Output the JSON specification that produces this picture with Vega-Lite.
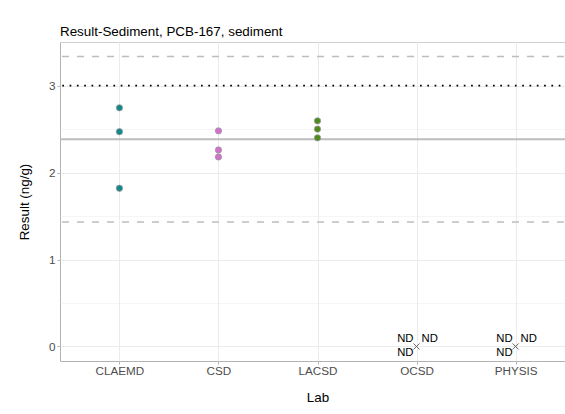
{
  "$schema": "https://vega.github.io/schema/vega-lite/v6.json",
  "width": 515,
  "height": 319,
  "autosize": {"type": "none"},
  "padding": {"left": 60, "top": 42, "right": 0, "bottom": 53},
  "background": "white",
  "title": {
    "text": "Result-Sediment, PCB-167, sediment",
    "anchor": "start",
    "frame": "group",
    "font": "Liberation Sans",
    "fontSize": 13.4,
    "fontWeight": "normal",
    "color": "#000000",
    "offset": 4
  },
  "config": {
    "view": {"stroke": "#b3b3b3", "strokeWidth": 1},
    "axis": {
      "labelFont": "Liberation Sans",
      "titleFont": "Liberation Sans",
      "labelFontSize": 11.7,
      "titleFontSize": 13.4,
      "titleFontWeight": "normal",
      "labelColor": "#4d4d4d",
      "titleColor": "#000000",
      "tickColor": "#b3b3b3",
      "domain": false,
      "gridColor": "#ebebeb"
    }
  },
  "datasets": {
    "results": [
      {"Lab": "CLAEMD", "Result": 2.745},
      {"Lab": "CLAEMD", "Result": 2.47},
      {"Lab": "CLAEMD", "Result": 1.82},
      {"Lab": "CSD", "Result": 2.48},
      {"Lab": "CSD", "Result": 2.26},
      {"Lab": "CSD", "Result": 2.18},
      {"Lab": "LACSD", "Result": 2.595},
      {"Lab": "LACSD", "Result": 2.50},
      {"Lab": "LACSD", "Result": 2.40}
    ],
    "nd": [
      {"Lab": "OCSD", "Result": 0, "Label": "ND"},
      {"Lab": "PHYSIS", "Result": 0, "Label": "ND"}
    ],
    "refs": [
      {"line": "upper", "Result": 3.335},
      {"line": "lower", "Result": 1.431},
      {"line": "target", "Result": 3.0},
      {"line": "mean", "Result": 2.383}
    ]
  },
  "encoding": {
    "y": {
      "field": "Result",
      "type": "quantitative",
      "scale": {"domain": [-0.167, 3.502], "nice": false, "zero": false},
      "axis": {
        "title": "Result (ng/g)",
        "values": [0, 0.5, 1, 1.5, 2, 2.5, 3, 3.5],
        "format": ".0f",
        "labelExpr": "datum.value % 1 === 0 ? datum.label : ''",
        "tickOpacity": {"condition": {"test": "datum.value % 1 !== 0", "value": 0}, "value": 1},
        "gridWidth": {"condition": {"test": "datum.value % 1 !== 0", "value": 0.5}, "value": 1},
        "tickSize": 3,
        "labelPadding": 2,
        "titlePadding": 17
      }
    }
  },
  "layer": [
    {
      "data": {"name": "results"},
      "mark": {"type": "point", "filled": true, "size": 40, "opacity": 0},
      "encoding": {
        "x": {
          "field": "Lab",
          "type": "nominal",
          "scale": {"type": "point", "padding": 0.6, "domain": ["CLAEMD", "CSD", "LACSD", "OCSD", "PHYSIS"]},
          "axis": {"labelAngle": 0, "grid": true, "tickSize": 3, "labelPadding": 1, "titlePadding": 14, "title": "Lab"}
        },
        "color": {
          "field": "Lab",
          "type": "nominal",
          "scale": {"domain": ["CLAEMD", "CSD", "LACSD"], "range": ["#11898a", "#d270d0", "#4d8c1a"]},
          "legend": null
        }
      }
    },
    {
      "data": {"name": "refs"},
      "transform": [{"filter": "datum.line === 'upper' || datum.line === 'lower'"}],
      "mark": {"type": "rule", "color": "#bdbdbd", "strokeWidth": 1.4, "strokeDash": [7, 8], "strokeDashOffset": 4},
      "encoding": {}
    },
    {
      "data": {"name": "refs"},
      "transform": [{"filter": "datum.line === 'target'"}],
      "mark": {"type": "rule", "color": "#000000", "strokeWidth": 1.7, "strokeDash": [1.7, 5.6]},
      "encoding": {}
    },
    {
      "data": {"name": "refs"},
      "transform": [{"filter": "datum.line === 'mean'"}],
      "mark": {"type": "rule", "color": "#bdbdbd", "strokeWidth": 2},
      "encoding": {}
    },
    {
      "data": {"name": "results"},
      "mark": {"type": "point", "filled": true, "size": 40, "stroke": "#9a9a9a", "strokeWidth": 0.8, "opacity": 1},
      "encoding": {
        "x": {"field": "Lab", "type": "nominal"},
        "color": {"field": "Lab", "type": "nominal", "legend": null}
      }
    },
    {
      "data": {"name": "nd"},
      "mark": {"type": "point", "shape": "M-1,-1L1,1M-1,1L1,-1", "filled": false, "size": 36, "stroke": "#555555", "strokeWidth": 0.9, "opacity": 1},
      "encoding": {"x": {"field": "Lab", "type": "nominal"}}
    },
    {
      "data": {"name": "nd"},
      "mark": {"type": "text", "font": "Liberation Sans", "fontSize": 11.3, "color": "#000000", "align": "right", "baseline": "middle", "dx": -3, "dy": -7.5},
      "encoding": {"x": {"field": "Lab", "type": "nominal"}, "text": {"field": "Label"}}
    },
    {
      "data": {"name": "nd"},
      "mark": {"type": "text", "font": "Liberation Sans", "fontSize": 11.3, "color": "#000000", "align": "left", "baseline": "middle", "dx": 5, "dy": -7.5},
      "encoding": {"x": {"field": "Lab", "type": "nominal"}, "text": {"field": "Label"}}
    },
    {
      "data": {"name": "nd"},
      "mark": {"type": "text", "font": "Liberation Sans", "fontSize": 11.3, "color": "#000000", "align": "right", "baseline": "middle", "dx": -3, "dy": 6.5},
      "encoding": {"x": {"field": "Lab", "type": "nominal"}, "text": {"field": "Label"}}
    }
  ]
}
